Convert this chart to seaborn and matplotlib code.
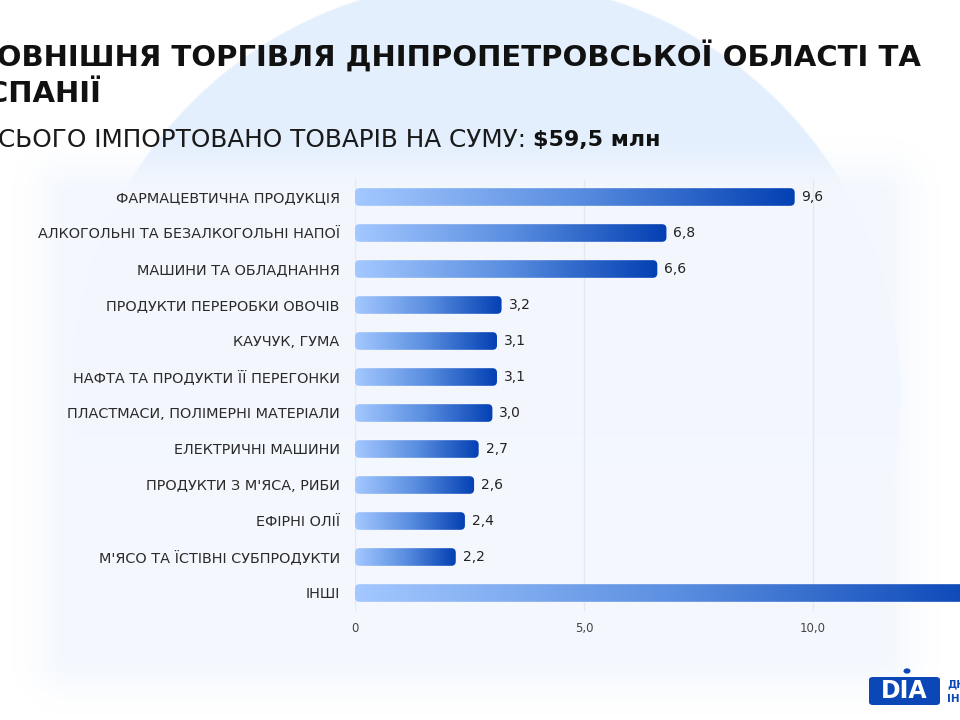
import numpy as np
import pandas as pd
import matplotlib
matplotlib.use("Agg")
import matplotlib.pyplot as plt
import seaborn as sns
from matplotlib.colors import LinearSegmentedColormap
from matplotlib.patches import FancyBboxPatch, Circle

# ---------------- data ----------------
categories = [
    "ФАРМАЦЕВТИЧНА ПРОДУКЦІЯ",
    "АЛКОГОЛЬНІ ТА БЕЗАЛКОГОЛЬНІ НАПОЇ",
    "МАШИНИ ТА ОБЛАДНАННЯ",
    "ПРОДУКТИ ПЕРЕРОБКИ ОВОЧІВ",
    "КАУЧУК, ГУМА",
    "НАФТА ТА ПРОДУКТИ ЇЇ ПЕРЕГОНКИ",
    "ПЛАСТМАСИ, ПОЛІМЕРНІ МАТЕРІАЛИ",
    "ЕЛЕКТРИЧНІ МАШИНИ",
    "ПРОДУКТИ З М'ЯСА, РИБИ",
    "ЕФІРНІ ОЛІЇ",
    "М'ЯСО ТА ЇСТІВНІ СУБПРОДУКТИ",
    "ІНШІ",
]
values = [9.6, 6.8, 6.6, 3.2, 3.1, 3.1, 3.0, 2.7, 2.6, 2.4, 2.2, 14.2]
value_labels = ["9,6", "6,8", "6,6", "3,2", "3,1", "3,1", "3,0", "2,7", "2,6", "2,4", "2,2", "14,2"]
x_ticks = [0, 5, 10, 15]
x_tick_labels = ["0", "5,0", "10,0", "15,0"]

title_line1 = "ЗОВНІШНЯ ТОРГІВЛЯ ДНІПРОПЕТРОВСЬКОЇ ОБЛАСТІ ТА"
title_line2 = "ІСПАНІЇ"
subtitle = "ВСЬОГО ІМПОРТОВАНО ТОВАРІВ НА СУМУ:"
subtitle_bold = r"\$59,5 млн"

df = pd.DataFrame({"category": categories, "value": values})

# ---------------- figure ----------------
sns.set_theme(style="white")
plt.rcParams["font.family"] = ["DejaVu Sans"]

W, H = 960, 720
fig = plt.figure(figsize=(9.6, 7.2), dpi=100)

# background (decorative): light circle fading downward + soft frosted panel
yy, xx = np.mgrid[0:H, 0:W].astype(float)
img = np.ones((H, W, 3))
d = np.sqrt((xx - 485) ** 2 + (yy - 395) ** 2)
cmask = np.clip((415 - d) / 2.0 + 0.5, 0, 1)
cmask = cmask * np.clip((600 - yy) / 330.0, 0, 1)
ccol = np.array([228, 239, 253]) / 255.0
img = img * (1 - cmask[..., None]) + ccol * cmask[..., None]
# panel
x0p, x1p, y0p, y1p = 70, 880, 195, 655
dx = np.maximum(np.maximum(x0p - xx, xx - x1p), 0)
dy = np.maximum(np.maximum(y0p - yy, yy - y1p), 0)
dist = np.sqrt(dx ** 2 + dy ** 2)
pmask = np.clip(1 - dist / 60.0, 0, 1)
pmask = pmask * pmask * (3 - 2 * pmask) * 0.97
pcol = np.array([244, 248, 254]) / 255.0
img = img * (1 - pmask[..., None]) + pcol * pmask[..., None]

axbg = fig.add_axes([0, 0, 1, 1], zorder=-10)
axbg.imshow(img, extent=[0, W, H, 0], aspect="auto", interpolation="bilinear")
axbg.set_xlim(0, W)
axbg.set_ylim(H, 0)
axbg.axis("off")

# chart axes
left_px, right_px = 355, 355 + 15 * 45.8
top_px, bot_px = 179, 611
ax = fig.add_axes([left_px / W, 1 - bot_px / H, (right_px - left_px) / W, (bot_px - top_px) / H])
ax.patch.set_alpha(0)

sns.barplot(data=df, x="value", y="category", orient="h", ax=ax, width=0.49,
            color="#4a7fd8", saturation=1)

ax.set_xlim(0, 15)
ax.set_ylim(len(categories) - 0.5, -0.5)

cmap = LinearSegmentedColormap.from_list("g", ["#a4c8ff", "#5a8ee0", "#0340b3"])
grad = np.linspace(0, 1, 256).reshape(1, -1)
xpp = 15 / (right_px - left_px)
ypp = len(categories) / (bot_px - top_px)
for p in ax.patches:
    bx, by, bw, bh = p.get_x(), p.get_y(), p.get_width(), p.get_height()
    p.set_facecolor("none")
    p.set_edgecolor("none")
    fb = FancyBboxPatch((bx, by), bw, bh,
                        boxstyle=f"round,pad=0,rounding_size={4.5 * xpp}",
                        mutation_aspect=ypp / xpp,
                        facecolor="none", edgecolor="none", transform=ax.transData)
    ax.add_patch(fb)
    im = ax.imshow(grad, extent=[bx, bx + bw, by + bh, by], aspect="auto",
                   cmap=cmap, interpolation="bilinear", zorder=3)
    im.set_clip_path(fb)

ax.set_xlim(0, 15)
ax.set_ylim(len(categories) - 0.5, -0.5)

ax.bar_label(ax.containers[0], labels=value_labels, padding=5,
             fontsize=10, color="#222222")

ax.set_xticks(x_ticks)
ax.set_xticklabels(x_tick_labels)
ax.grid(axis="x", color="#e4e9f0", linewidth=1)
ax.set_axisbelow(True)
for s in ax.spines.values():
    s.set_visible(False)
ax.tick_params(axis="x", length=0, pad=8, labelsize=8.5, labelcolor="#444444")
ax.tick_params(axis="y", length=0, pad=11, labelsize=10.4, labelcolor="#2a2a2a")
ax.set_xlabel("")
ax.set_ylabel("")

# ---------------- titles ----------------
fig.text(-24 / W, 1 - 57 / H, title_line1, fontsize=21, fontweight="bold",
         color="#111111", va="center", ha="left")
fig.text(-24 / W, 1 - 94 / H, title_line2, fontsize=21, fontweight="bold",
         color="#111111", va="center", ha="left")
fig.text(-19 / W, 1 - 140 / H, subtitle, fontsize=17.8, color="#1a1a1a",
         va="center", ha="left")
fig.text(533 / W, 1 - 140 / H, subtitle_bold, fontsize=16, fontweight="bold",
         color="#111111", va="center", ha="left")

# ---------------- logo ----------------
logo_blue = "#0b47b6"
fig.patches.append(FancyBboxPatch((869 / W, 1 - 705 / H), 71 / W, 28 / H,
                                  boxstyle="round,pad=0,rounding_size=0.004",
                                  transform=fig.transFigure, facecolor=logo_blue,
                                  edgecolor="none"))
fig.patches.append(Circle((907 / W, 1 - 671 / H), 3.5 / W, transform=fig.transFigure,
                          facecolor=logo_blue, edgecolor="none"))
fig.text(904 / W, 1 - 691 / H, "DIA", fontsize=17, fontweight="bold", color="white",
         ha="center", va="center")
fig.text(947 / W, 1 - 684 / H, "ДНІПРОВСЬКА", fontsize=7.5, fontweight="bold",
         color=logo_blue, ha="left", va="center")
fig.text(947 / W, 1 - 698 / H, "ІНВЕСТИЦІЙНА", fontsize=7.5, fontweight="bold",
         color=logo_blue, ha="left", va="center")

fig.savefig("out.png", dpi=100)
